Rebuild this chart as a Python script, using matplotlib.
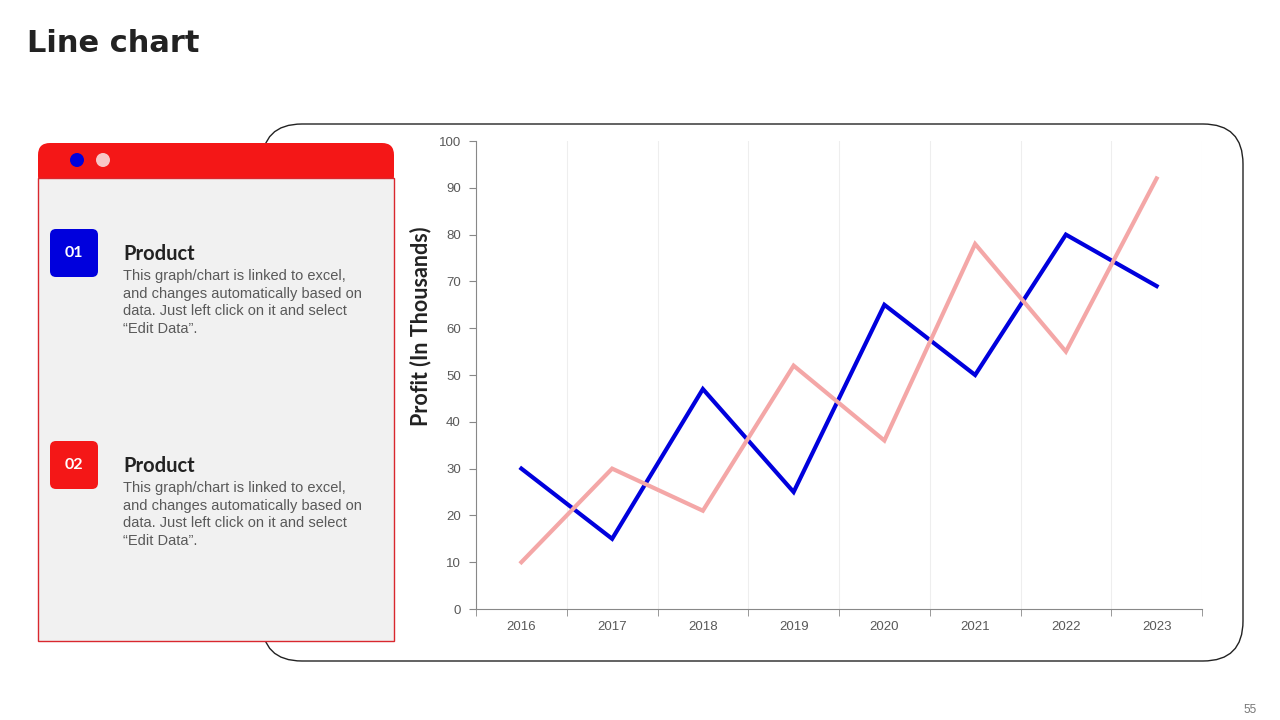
import matplotlib.pyplot as plt
from matplotlib.patches import FancyBboxPatch, Rectangle, Circle

# data
years = ['2016', '2017', '2018', '2019', '2020', '2021', '2022', '2023']
product_01 = [30, 15, 47, 25, 65, 50, 80, 69]
product_02 = [10, 30, 21, 52, 36, 78, 55, 92]
y_ticks = [0, 10, 20, 30, 40, 50, 60, 70, 80, 90, 100]

blue = '#0000dd'
pink = '#f4a7a7'
red = '#f41717'
body = "This graph/chart is linked to excel,\nand changes automatically based on\ndata. Just left click on it and select\n\u201cEdit Data\u201d."

fig = plt.figure(figsize=(12.8, 7.2), dpi=100)

# background layer in pixel coordinates
bg = fig.add_axes([0, 0, 1, 1], zorder=0)
bg.set_xlim(0, 1280)
bg.set_ylim(720, 0)
bg.axis('off')

bg.text(27, 44, 'Line chart', fontsize=22, fontweight='bold', color='#222222',
        family='DejaVu Sans', va='center', ha='left')
bg.text(1250, 710, '55', fontsize=8.5, color='#777777', ha='center', va='center',
        family='Liberation Sans')

# big rounded frame behind the chart
bg.add_patch(FancyBboxPatch((262, 124), 981, 537, boxstyle='round,pad=0,rounding_size=40',
                            fc='white', ec='#222222', lw=1))

# left panel
bg.add_patch(FancyBboxPatch((38, 143), 356, 45, boxstyle='round,pad=0,rounding_size=12',
                            fc=red, ec='none', zorder=2))
bg.add_patch(Rectangle((38, 178), 356, 463, fc='#f1f1f1', ec='#d9282e', lw=1, zorder=3))
bg.add_patch(Circle((77, 160), 7, fc=blue, ec='none', zorder=4))
bg.add_patch(Circle((103, 160), 7, fc='#f8c6c6', ec='none', zorder=4))

for ytop, num, col in [(229, '01', blue), (441, '02', red)]:
    bg.add_patch(FancyBboxPatch((50, ytop), 48, 48, boxstyle='round,pad=0,rounding_size=6',
                                fc=col, ec='none', zorder=4))
    bg.text(74, ytop + 24, num, color='white', fontsize=11.5, fontweight='bold',
            ha='center', va='center', family='Lato', zorder=5)
    bg.text(123, ytop + 25, 'Product', color='#222222', fontsize=14.5, fontweight='bold',
            ha='left', va='center', family='Lato', zorder=5)
    bg.text(123, ytop + 40, body, color='#595959', fontsize=10.5, ha='left', va='top',
            family='Liberation Sans', linespacing=1.32, zorder=5)

# chart
ax = fig.add_axes([476 / 1280, 1 - 609 / 720, 726 / 1280, 468 / 720], zorder=1)
ax.set_facecolor('none')
x = list(range(len(years)))
ax.plot(x, product_01, color=blue, lw=3, solid_joinstyle='miter')
ax.plot(x, product_02, color=pink, lw=3, solid_joinstyle='miter')

ax.set_xlim(-0.5, len(years) - 0.5)
ax.set_ylim(0, 100)
ax.set_yticks(y_ticks)
ax.set_xticks(x)
ax.set_xticklabels(years)
ax.set_xticks([i - 0.5 for i in range(len(years) + 1)], minor=True)
ax.tick_params(axis='x', which='major', length=0, pad=9)
ax.tick_params(axis='x', which='minor', length=5, color='#888888', direction='out')
ax.tick_params(axis='y', length=5, color='#888888', direction='out', pad=6)
ax.grid(True, axis='x', which='minor', color='#eeeeee', lw=0.8)
for lbl in ax.get_xticklabels() + ax.get_yticklabels():
    lbl.set_family('Liberation Sans')
    lbl.set_fontsize(9.5)
    lbl.set_color('#595959')
for s in ['top', 'right']:
    ax.spines[s].set_visible(False)
ax.spines['left'].set_color('#888888')
ax.spines['bottom'].set_color('#888888')
ax.set_ylabel('Profit (In Thousands)', fontsize=15.5, fontweight='bold', family='Lato',
              color='#222222')
ax.yaxis.set_label_coords(-0.062, 0.605)

fig.savefig('out.png', dpi=100)
